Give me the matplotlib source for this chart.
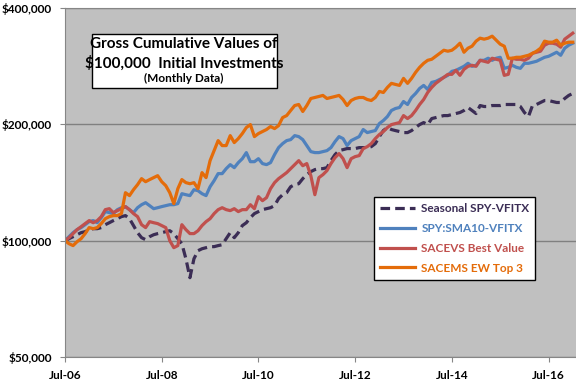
import matplotlib
matplotlib.use("Agg")
import matplotlib.pyplot as plt
from matplotlib.patches import Rectangle
from matplotlib.ticker import FixedLocator, FuncFormatter, NullLocator
import numpy as np

# monthly gross cumulative values, $ thousands, Jul-06 .. Jan-17
seasonal = [100, 101.2, 102.4, 103.6, 104.9, 105.5, 106.8, 107.4, 107.4, 108.1,
            110.0, 111.3, 112.7, 114.0, 115.4, 116.1, 114.0, 109.4, 104.9, 101.8,
            100.6, 102.4, 103.6, 104.3, 104.9, 105.5, 106.1, 104.3, 101.2, 98.2,
            89.8, 80.2, 89.8, 94.2, 95.3, 95.9, 96.5, 96.5, 97.1, 97.6,
            101.2, 104.9, 101.8, 104.9, 109.4, 111.3, 114.7, 117.5, 118.9, 120.3,
            121.0, 121.7, 123.2, 128.5, 131.5, 133.1, 137.9, 139.6, 140.4, 144.7,
            148.2, 150.9, 152.7, 153.6, 153.6, 154.5, 161.1, 167.0, 171.0, 172.0,
            173.1, 173.1, 173.1, 174.1, 174.1, 174.1, 175.1, 178.3, 185.9, 192.7,
            196.2, 193.9, 192.7, 191.6, 190.4, 190.4, 192.7, 196.2, 199.7, 202.1,
            199.7, 207.0, 208.2, 209.5, 210.7, 210.7, 212.0, 213.3, 214.6, 217.2,
            221.1, 217.2, 213.3, 223.7, 222.4, 222.4, 223.7, 223.7, 223.7, 225.1,
            225.1, 225.1, 225.1, 222.4, 214.6, 209.5, 223.7, 225.1, 227.8, 230.5,
            230.5, 229.1, 227.8, 227.8, 233.3, 237.6, 240.4]

sma10 = [100, 102.4, 104.9, 106.8, 108.1, 110.0, 112.0, 112.7, 111.3, 114.7,
         118.9, 118.2, 117.5, 120.3, 121.7, 122.5, 120.3, 118.2, 121.7, 123.9,
         125.4, 123.2, 121.0, 121.7, 122.5, 123.2, 123.9, 123.9, 124.7, 132.3,
         131.5, 130.8, 135.5, 134.7, 132.3, 130.8, 137.9, 143.0, 149.1, 149.1,
         153.6, 157.3, 154.5, 159.2, 163.0, 169.0, 160.1, 160.1, 163.0, 158.3,
         157.3, 159.2, 167.0, 174.1, 178.3, 181.5, 182.6, 187.0, 185.9, 182.6,
         176.2, 170.0, 169.0, 169.0, 170.0, 171.0, 174.1, 180.4, 185.9, 183.7,
         176.2, 181.5, 183.7, 185.9, 193.9, 190.4, 191.6, 192.7, 200.9, 204.6,
         209.5, 217.2, 219.8, 221.1, 229.1, 225.1, 234.7, 240.4, 247.7, 252.2,
         246.2, 256.8, 258.3, 261.4, 264.6, 267.8, 274.3, 275.9, 279.2, 282.6,
         287.7, 282.6, 284.3, 292.9, 292.9, 296.5, 292.9, 296.5, 298.2, 279.2,
         280.9, 284.3, 280.9, 279.2, 287.7, 287.7, 289.4, 291.2, 294.7, 298.2,
         300.0, 303.6, 307.3, 301.8, 314.8, 320.5, 324.3]

sacevs = [100, 101.8, 104.3, 106.8, 108.7, 110.7, 112.7, 111.3, 112.7, 115.4,
          120.3, 121.0, 118.2, 119.6, 121.0, 122.5, 120.3, 117.5, 115.4, 110.0,
          108.1, 112.0, 111.3, 110.7, 109.4, 108.1, 100.0, 95.9, 97.1, 110.0,
          106.8, 104.3, 104.3, 106.1, 109.4, 112.0, 114.0, 117.5, 120.3, 121.7,
          120.3, 119.6, 121.0, 118.9, 120.3, 120.3, 123.9, 121.0, 130.0, 126.9,
          129.2, 136.3, 141.3, 144.7, 147.3, 150.0, 153.6, 157.3, 161.1, 156.3,
          158.3, 147.3, 131.5, 145.6, 148.2, 151.8, 158.3, 164.0, 168.0, 163.0,
          154.5, 163.0, 165.0, 166.0, 173.1, 175.1, 178.3, 183.7, 188.2, 191.6,
          196.2, 199.7, 200.9, 202.1, 210.7, 207.0, 210.7, 217.2, 225.1, 231.9,
          241.8, 249.2, 255.3, 259.9, 264.6, 269.4, 269.4, 275.9, 267.8, 277.5,
          282.6, 284.3, 282.6, 292.9, 291.2, 289.4, 296.5, 294.7, 292.9, 267.8,
          269.4, 296.5, 294.7, 294.7, 292.9, 296.5, 305.4, 307.3, 309.2, 320.5,
          324.3, 324.3, 322.4, 316.7, 332.2, 338.2, 344.3]

sacems = [100, 98.2, 97.1, 99.4, 101.2, 104.3, 108.1, 107.4, 108.1, 110.7,
          114.0, 115.4, 116.1, 116.1, 117.5, 133.1, 130.8, 135.5, 139.6, 144.7,
          142.1, 143.9, 145.6, 147.3, 142.1, 138.8, 133.1, 124.7, 136.3, 143.9,
          141.3, 140.4, 141.3, 136.3, 150.0, 145.6, 161.1, 171.0, 181.5, 176.2,
          176.2, 187.0, 179.4, 183.7, 189.3, 196.2, 199.7, 185.9, 189.3, 191.6,
          193.9, 197.4, 195.0, 198.5, 208.2, 210.7, 217.2, 223.7, 225.1, 215.9,
          223.7, 233.3, 234.7, 236.1, 237.6, 233.3, 234.7, 236.1, 237.6, 231.9,
          223.7, 230.5, 233.3, 234.7, 234.7, 231.9, 230.5, 234.7, 243.3, 241.8,
          249.2, 255.3, 253.7, 252.2, 263.0, 255.3, 263.0, 272.6, 280.9, 287.7,
          292.9, 294.7, 300.0, 305.4, 311.0, 309.2, 311.0, 316.7, 324.3, 307.3,
          314.8, 318.6, 328.3, 334.2, 332.2, 334.2, 338.2, 330.2, 322.4, 318.6,
          296.5, 296.5, 298.2, 298.2, 300.0, 301.8, 305.4, 309.2, 314.8, 328.3,
          326.3, 326.3, 330.2, 320.5, 324.3, 326.3, 326.3]

tick_labels = ['Jul-06', 'Jul-08', 'Jul-10', 'Jul-12', 'Jul-14', 'Jul-16']
y_ticks = [50000, 100000, 200000, 400000]

series = [
    ('Seasonal SPY-VFITX', seasonal, '#3B2D55', (3, 1.6)),
    ('SPY:SMA10-VFITX', sma10, '#4F81BD', None),
    ('SACEVS Best Value', sacevs, '#C0504D', None),
    ('SACEMS EW Top 3', sacems, '#E46C0A', None),
]

plt.rcParams['font.family'] = ['Lato', 'DejaVu Sans']
plt.rcParams['font.weight'] = 'bold'

fig = plt.figure(figsize=(5.76, 3.84), dpi=100)
ax = fig.add_axes([65 / 576, 27 / 384, 511 / 576, 349 / 384])
ax.set_facecolor('#C0C0C0')

months = np.arange(len(seasonal))
for name, vals, col, dash in series:
    line, = ax.plot(months, np.array(vals) * 1000, color=col, lw=2.3, label=name,
                    solid_joinstyle='round')
    if dash:
        line.set_dashes(dash)

ax.set_yscale('log')
ax.set_ylim(50000, 400000)
ax.yaxis.set_major_locator(FixedLocator(y_ticks))
ax.yaxis.set_minor_locator(NullLocator())
ax.yaxis.set_major_formatter(FuncFormatter(lambda v, p: f'${v:,.0f}'))
ax.set_xlim(0, 126.8)
ax.set_xticks(np.arange(len(tick_labels)) * 24)
ax.set_xticklabels(tick_labels)

ax.grid(axis='y', color='#808080', lw=1)
ax.set_axisbelow(True)
for s in ['left', 'bottom', 'top']:
    ax.spines[s].set_color('#868686')
ax.spines['right'].set_visible(False)
ax.tick_params(axis='both', direction='out', length=3.5, color='#868686',
               labelsize=8.5, pad=6)

# title box
ax.add_patch(Rectangle((0.053, 0.771), 0.362, 0.155, transform=ax.transAxes,
                       facecolor='white', edgecolor='black', lw=1, zorder=5))
ax.text(0.233, 0.896, 'Gross Cumulative Values of', transform=ax.transAxes,
        ha='center', va='center', fontsize=11, fontweight='bold', zorder=6)
ax.text(0.233, 0.843, '$100,000  Initial Investments', transform=ax.transAxes,
        ha='center', va='center', fontsize=11, fontweight='bold', zorder=6)
ax.text(0.233, 0.798, '(Monthly Data)', transform=ax.transAxes,
        ha='center', va='center', fontsize=8.5, fontweight='bold', zorder=6)

leg = ax.legend(loc='upper left', bbox_to_anchor=(0.605, 0.458), fontsize=8.5,
                frameon=True, fancybox=False, edgecolor='black', framealpha=1,
                handlelength=3.0, borderpad=0.5, labelspacing=0.75,
                handletextpad=0.5, borderaxespad=0)
leg.get_frame().set_linewidth(1)
for txt, (_, _, col, _) in zip(leg.get_texts(), series):
    txt.set_color(col)

fig.savefig('out.png', dpi=100)
